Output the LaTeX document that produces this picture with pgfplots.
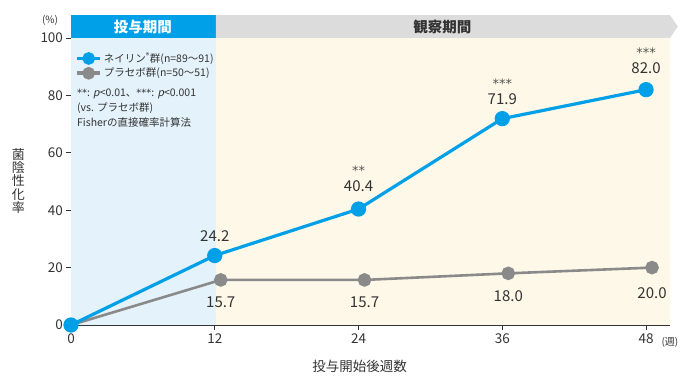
\documentclass[border=0pt]{standalone}
\usepackage{pgfplots}
\pgfplotsset{compat=1.18}
\usepackage{fontspec}
\setmainfont{Noto Sans CJK JP}
\newfontfamily\slfont[FakeSlant=0.2]{Noto Sans CJK JP}
\newfontfamily\starfont{DejaVu Sans}
\definecolor{cblue}{HTML}{00A0E9}
\definecolor{cgray}{HTML}{8A8A8A}
\definecolor{regblue}{HTML}{E4F2FB}
\definecolor{regyellow}{HTML}{FEF8E8}
\definecolor{hdrgray}{HTML}{DCDCDC}
\definecolor{txt}{HTML}{333333}
\definecolor{startxt}{HTML}{555555}
\newcommand{\fs}[1]{\fontsize{#1bp}{#1bp}\selectfont}
\newcommand{\st}[1]{{\starfont #1}}
\begin{document}
\begin{tikzpicture}
\useasboundingbox (-71bp,-55bp) rectangle (619bp,325bp);
\begin{axis}[
  at={(0,0)}, anchor=south west,
  scale only axis, width=599bp, height=287bp,
  xmin=0, xmax=50, ymin=0, ymax=100,
  axis x line=bottom, axis y line=left,
  axis line style={-, line width=0.9bp, color=txt},
  xtick={0,12,24,36,48}, ytick={0,20,40,60,80,100},
  tick align=outside, major tick length=4.5bp,
  tick style={line width=0.7bp, color=txt},
  ticklabel style={font=\fs{13.5}, text=txt},
  xticklabel style={yshift=-1bp},
  /pgf/number format/assume math mode=true,
  clip=false,
  reverse legend,
  legend style={at={(axis cs:0.35,95.6)}, anchor=north west, draw=none, fill=none,
    font=\fs{10.5}, text=txt, inner sep=0pt, row sep=0bp,
    cells={anchor=west}},
  legend image code/.code={\draw[mark repeat=2,mark phase=2,#1,line width=3.6bp,mark size=4.5bp]
     plot coordinates {(0bp,0bp)(11.5bp,0bp)(23bp,0bp)};},
]
\fill[regblue] ([xshift=0.45bp,yshift=0.45bp]axis cs:0,0) rectangle (axis cs:12.1,100);
\fill[regyellow] ([yshift=0.45bp]axis cs:12.1,0) rectangle (axis cs:50,100);
\fill[cblue] (axis cs:0,100) rectangle (axis cs:12.1,108);
\fill[hdrgray] (axis cs:12.1,100) -- (axis cs:50,100) -- (axis cs:50.65,104) -- (axis cs:50,108) -- (axis cs:12.1,108) -- cycle;
\node[text=white, font=\fs{14.5}\bfseries] at (axis cs:6,104) {投与期間};
\node[text=txt, font=\fs{14.5}\bfseries] at (axis cs:31,104) {観察期間};

\addplot[cgray, line width=2.6bp, mark=*, mark size=5.5bp, mark options={fill=cgray, draw=none}]
  coordinates {(0,0) (12.5,15.7) (24.5,15.7) (36.5,18.0) (48.5,20.0)};
\addlegendentry{プラセボ群(n=50〜51)}
\addplot[cblue, line width=3.2bp, mark=*, mark size=6bp, mark options={fill=cblue, draw=none}]
  coordinates {(0,0) (12,24.2) (24,40.4) (36,71.9) (48,82.0)};
\addlegendentry{ネイリン\textsuperscript{®}群(n=89〜91)}

% value labels
\node[text=txt, font=\fs{15}] at (axis cs:12,31.0) {24.2};
\node[text=txt, font=\fs{15}] at (axis cs:24,48.4) {40.4};
\node[text=startxt, font=\fs{13}] at (axis cs:24,53.6) {\st{**}};
\node[text=txt, font=\fs{15}] at (axis cs:36,78.7) {71.9};
\node[text=startxt, font=\fs{13}] at (axis cs:36,84.1) {\st{***}};
\node[text=txt, font=\fs{15}] at (axis cs:48,89.5) {82.0};
\node[text=startxt, font=\fs{13}] at (axis cs:48,94.9) {\st{***}};
\node[text=txt, font=\fs{15}] at (axis cs:12.5,8.0) {15.7};
\node[text=txt, font=\fs{15}] at (axis cs:24.5,8.0) {15.7};
\node[text=txt, font=\fs{15}] at (axis cs:36.5,10.1) {18.0};
\node[text=txt, font=\fs{15}] at (axis cs:48.5,11.1) {20.0};

% note
\node[anchor=north west, align=left, text=txt, font=\fontsize{10.5bp}{14.9bp}\selectfont, inner sep=0pt]
  at (axis cs:0.5,82.2) {{\fontsize{10bp}{10bp}\selectfont\st{**}}: {\slfont p}<0.01、{\fontsize{10bp}{10bp}\selectfont\st{***}}: {\slfont p}<0.001\\(vs. プラセボ群)\\Fisherの直接確率計算法};

% axis texts
\node[text=txt, font=\fs{10}] at (axis cs:-1.75,106.3) {(\%)};
\node[text=txt, font=\fs{10}, anchor=west] at (axis cs:49.0,-6.0) {(週)};
\node[text=txt, font=\fs{13.5}] at (axis cs:24.1,-14.3) {投与開始後週数};
\node[text=txt, font=\fontsize{13bp}{13.4bp}\selectfont, align=center] at (axis cs:-4.4,50.2) {菌\\陰\\性\\化\\率};
\end{axis}
\end{tikzpicture}
\end{document}
